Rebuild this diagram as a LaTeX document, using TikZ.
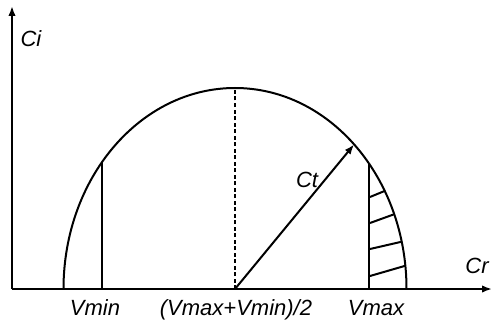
\documentclass[tikz,border=0pt]{standalone}
\usepackage{fontspec}
\setmainfont{Liberation Sans}
\usetikzlibrary{arrows.meta,calc}
\begin{document}
\begin{tikzpicture}[x=1pt,y=1pt,
  line/.style={line width=2pt},
  lbl/.style={font=\fontsize{22}{26}\selectfont\itshape, inner sep=0pt, anchor=base},
  tip/.style={-{Latex[length=10pt,width=7.5pt]}}]
\useasboundingbox (0,0) rectangle (494,327);
\coordinate (O) at (235,38);
\coordinate (org) at (12,38);
\coordinate (ytop) at (12,321);
\coordinate (xend) at (492,38);
\coordinate (L) at (63.5,38);
% axes
\draw[line,tip] (org) -- (ytop);
\draw[line,tip] (org) -- (xend);
% semi-ellipse
\draw[line] (L) arc[start angle=180,end angle=0,x radius=171.5,y radius=201];
% Vmin line
\draw[line] (O) ++(140.85:171.5 and 201) coordinate (vmt) -- (vmt |- O);
% Vmax line
\draw[line] (O) ++(38.6:171.5 and 201) coordinate (vxt) -- (vxt |- O);
% dashed center line
\draw[line,dash pattern=on 4pt off 2.5pt] (O) -- ++(0,201) coordinate (top);
% Ct arrow
\draw[line,tip] (O) -- ($(O)+(46:171.5 and 201)$) coordinate (cttip);
% hatching
\begin{scope}
\clip (L) arc[start angle=180,end angle=0,x radius=171.5,y radius=201] -- cycle;
\draw[line] (370,130) -- ++(40,16.5);
\draw[line] (370,104) -- ++(40,14.5);
\draw[line] (370,78) -- ++(50,11.5);
\draw[line] (370,51) -- ++(50,14.5);
\end{scope}
% labels
\node[lbl] (ci) at (31,280) {Ci};
\node[lbl] (cr) at (477,54) {Cr};
\node[lbl] (ct) at (307,140) {Ct};
\node[lbl] (vmin) at (95,12) {Vmin};
\node[lbl] (vmid) at (236,12) {(Vmax+Vmin)/2};
\node[lbl] (vmax) at (376,12) {Vmax};
\end{tikzpicture}
\end{document}
